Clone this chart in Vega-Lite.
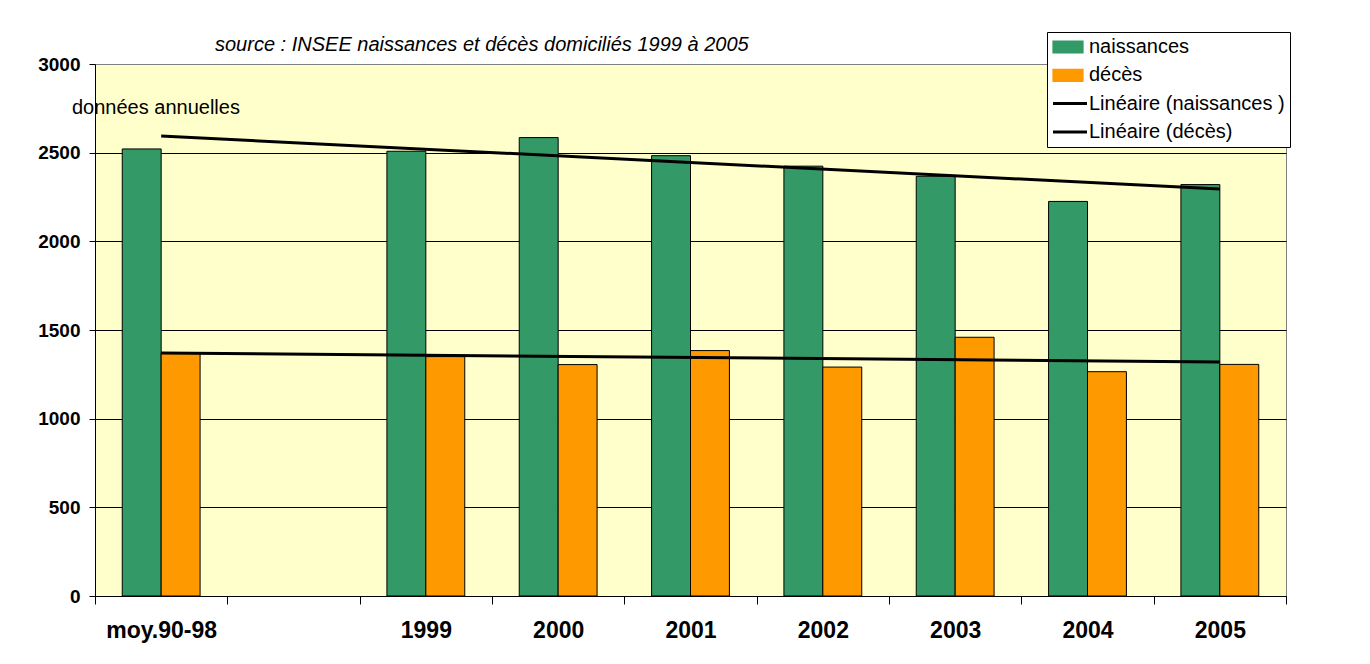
{
  "$schema": "https://vega.github.io/schema/vega-lite/v6.json",
  "autosize": {"type": "none"},
  "width": 1191,
  "height": 532,
  "padding": {"left": 95, "top": 64, "right": 84, "bottom": 68},
  "background": "white",
  "title": {
    "text": "source : INSEE naissances et décès domiciliés 1999 à 2005",
    "anchor": "start",
    "frame": "group",
    "dx": 120,
    "dy": 37,
    "offset": 14,
    "font": "Liberation Sans",
    "fontSize": 20,
    "fontStyle": "italic",
    "fontWeight": "normal",
    "color": "black"
  },
  "datasets": {
    "barres": [
      {"cat": "moy.90-98", "serie": "naissances", "valeur": 2521},
      {"cat": "moy.90-98", "serie": "décès", "valeur": 1372},
      {"cat": "1999", "serie": "naissances", "valeur": 2508},
      {"cat": "1999", "serie": "décès", "valeur": 1350},
      {"cat": "2000", "serie": "naissances", "valeur": 2585},
      {"cat": "2000", "serie": "décès", "valeur": 1305},
      {"cat": "2001", "serie": "naissances", "valeur": 2483},
      {"cat": "2001", "serie": "décès", "valeur": 1384},
      {"cat": "2002", "serie": "naissances", "valeur": 2424},
      {"cat": "2002", "serie": "décès", "valeur": 1291},
      {"cat": "2003", "serie": "naissances", "valeur": 2367},
      {"cat": "2003", "serie": "décès", "valeur": 1459},
      {"cat": "2004", "serie": "naissances", "valeur": 2225},
      {"cat": "2004", "serie": "décès", "valeur": 1265},
      {"cat": "2005", "serie": "naissances", "valeur": 2320},
      {"cat": "2005", "serie": "décès", "valeur": 1306}
    ],
    "tendances": [
      {"cat": "moy.90-98", "serie": "Linéaire (naissances )", "valeur": 2594},
      {"cat": "2005", "serie": "Linéaire (naissances )", "valeur": 2295},
      {"cat": "moy.90-98", "serie": "Linéaire (décès)", "valeur": 1370},
      {"cat": "2005", "serie": "Linéaire (décès)", "valeur": 1320}
    ],
    "notes": [
      {"texte": "données annuelles"}
    ]
  },
  "config": {
    "view": {"fill": "#FFFFCC", "stroke": "#808080", "strokeWidth": 1},
    "axis": {"labelFont": "Liberation Sans", "labelColor": "black"}
  },
  "layer": [
    {
      "data": {"name": "barres"},
      "mark": {"type": "bar", "stroke": "black", "strokeWidth": 1},
      "encoding": {
        "x": {
          "field": "cat",
          "type": "nominal",
          "sort": null,
          "scale": {
            "domain": ["moy.90-98", " ", "1999", "2000", "2001", "2002", "2003", "2004", "2005"],
            "paddingInner": 0,
            "paddingOuter": 0
          },
          "axis": {
            "title": null,
            "labelAngle": 0,
            "labelFontSize": 23,
            "labelFontWeight": "bold",
            "labelPadding": 15,
            "tickBand": "extent",
            "tickSize": 8,
            "tickColor": "black",
            "domainColor": "black",
            "grid": false
          }
        },
        "xOffset": {
          "field": "serie",
          "type": "nominal",
          "scale": {"domain": ["naissances", "décès"], "paddingInner": 0, "paddingOuter": 0.7}
        },
        "y": {
          "field": "valeur",
          "type": "quantitative",
          "scale": {"domain": [0, 3000], "nice": false},
          "axis": {
            "title": null,
            "format": "d",
            "values": [0, 500, 1000, 1500, 2000, 2500, 3000],
            "labelFontSize": 19,
            "labelFontWeight": "bold",
            "labelPadding": 9,
            "tickSize": 6,
            "tickColor": "black",
            "domainColor": "black",
            "grid": true,
            "gridColor": {"condition": {"test": "datum.value === 3000", "value": "#808080"}, "value": "black"},
            "gridOpacity": 1,
            "gridWidth": 1
          }
        },
        "color": {
          "field": "serie",
          "type": "nominal",
          "scale": {
            "domain": ["naissances", "décès", "Linéaire (naissances )", "Linéaire (décès)"],
            "range": ["#339966", "#FF9900", "#000000", "#000000"]
          },
          "legend": {
            "orient": "none",
            "legendX": 952,
            "legendY": -32,
            "title": null,
            "labelFont": "Liberation Sans",
            "labelFontSize": 20,
            "labelColor": "black",
            "labelLimit": 400,
            "labelOffset": 17,
            "strokeColor": "black",
            "fillColor": "white",
            "padding": 5,
            "rowPadding": 8.3,
            "symbolSize": 400,
            "symbolOpacity": 1,
            "symbolStrokeColor": "black",
            "symbolType": {"expr": "(datum.value === 'naissances' || datum.value === 'décès') ? 'M-0.9,-0.6H2.1V0.6H-0.9Z' : 'M-0.9,0H2.5'"},
            "symbolStrokeWidth": {"expr": "(datum.value === 'naissances' || datum.value === 'décès') ? 1.2 : 3"}
          }
        }
      }
    },
    {
      "data": {"name": "tendances"},
      "mark": {"type": "line", "strokeWidth": 3},
      "encoding": {
        "x": {"field": "cat", "type": "nominal", "sort": null},
        "y": {"field": "valeur", "type": "quantitative"},
        "color": {"field": "serie", "type": "nominal", "legend": null}
      }
    },
    {
      "data": {"name": "notes"},
      "mark": {"type": "text", "align": "left", "baseline": "middle", "dx": -23, "font": "Liberation Sans", "fontSize": 20, "color": "black"},
      "encoding": {
        "x": {"datum": "moy.90-98", "type": "nominal", "bandPosition": 0},
        "y": {"datum": 2750, "type": "quantitative"},
        "text": {"field": "texte", "type": "nominal"}
      }
    }
  ]
}
